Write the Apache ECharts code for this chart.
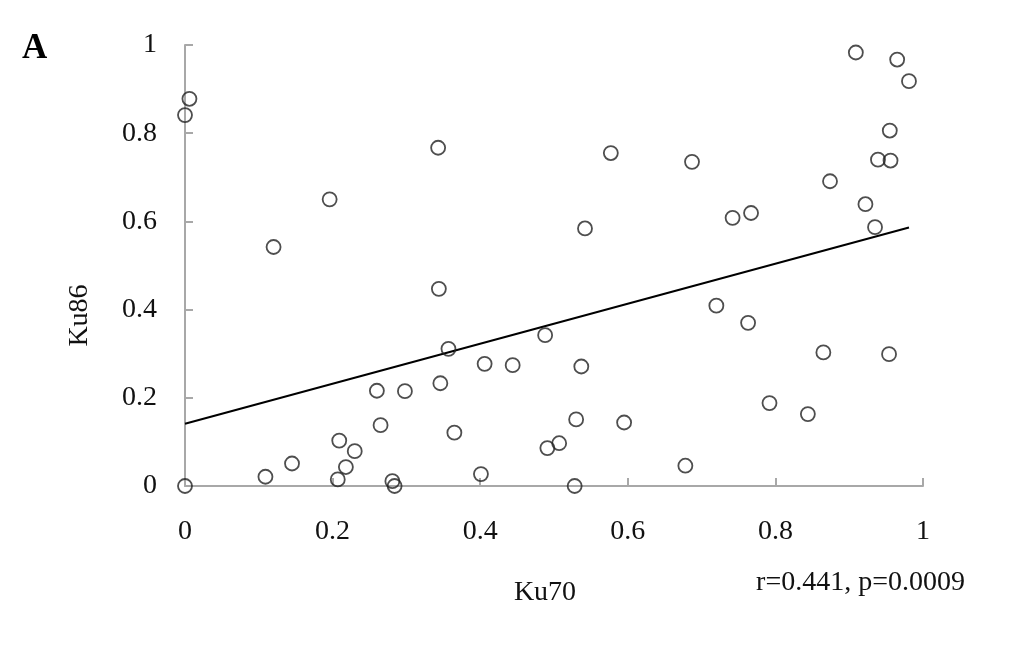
<!DOCTYPE html>
<html>
<head>
<meta charset="utf-8">
<script src="https://cdn.jsdelivr.net/npm/echarts@6/dist/echarts.min.js"></script>
<style>
	html, body { margin: 0; padding: 0; background: #fff; }
	#main { width: 1033px; height: 655px; }
</style>
</head>
<body>
<div id="main"></div>
<script>
// Ku70 (x) vs Ku86 (y)
var ku70 = [0, 0.006, 0.343, 0.196, 0.120, 0.344, 0.357, 0.260, 0.298, 0.346,
	0.265, 0.365, 0.209, 0.230, 0.145, 0.218, 0.109, 0.207, 0.281, 0.284,
	0, 0.488, 0.406, 0.444, 0.537, 0.530, 0.595, 0.491, 0.507, 0.401,
	0.528, 0.678, 0.577, 0.687, 0.542, 0.909, 0.965, 0.981, 0.955, 0.939,
	0.956, 0.874, 0.922, 0.935, 0.742, 0.767, 0.720, 0.763, 0.865, 0.954,
	0.792, 0.844];
var ku86 = [0.841, 0.878, 0.767, 0.650, 0.542, 0.447, 0.311, 0.216, 0.215, 0.233,
	0.138, 0.121, 0.103, 0.079, 0.051, 0.043, 0.021, 0.015, 0.011, 0.000,
	0.000, 0.342, 0.277, 0.274, 0.271, 0.151, 0.144, 0.086, 0.097, 0.027,
	0.000, 0.046, 0.755, 0.735, 0.584, 0.983, 0.967, 0.918, 0.806, 0.740,
	0.738, 0.691, 0.639, 0.587, 0.608, 0.619, 0.409, 0.370, 0.303, 0.299,
	0.188, 0.163];

// regression line end points
var fitX = [0, 0.981];
var fitY = [0.141, 0.586];

var ticks = [0, 0.2, 0.4, 0.6, 0.8, 1];

function initChart(){
	var points = [];
	$each(ku70, function(i, x){
		points.push([x, ku86[i]]);
	});
	var fit = [];
	$each(fitX, function(i, x){
		fit.push([x, fitY[i]]);
	});

	var font = '"Liberation Serif", "Times New Roman", serif';
	var axisColor = '#a8a8a8';
	var myChart = echarts.init(document.getElementById('main'));

	var option = {
		backgroundColor: '#fff',
		animation: false,
		grid: {
			left: 185,
			right: 110,
			top: 45,
			bottom: 169
		},
		xAxis: {
			type: 'value',
			min: ticks[0],
			max: ticks[ticks.length - 1],
			interval: 0.2,
			name: 'Ku70',
			nameLocation: 'middle',
			nameGap: 93,
			nameTextStyle: { fontFamily: font, fontSize: 28, color: '#111', padding: [0, 18, 0, 0] },
			axisLine: { lineStyle: { color: axisColor, width: 2 } },
			axisTick: { inside: true, length: 8, lineStyle: { color: axisColor, width: 2 } },
			axisLabel: { fontFamily: font, fontSize: 28, color: '#111', margin: 32 },
			splitLine: { show: false }
		},
		yAxis: {
			type: 'value',
			min: ticks[0],
			max: ticks[ticks.length - 1],
			interval: 0.2,
			name: 'Ku86',
			nameLocation: 'middle',
			nameGap: 91,
			nameTextStyle: { fontFamily: font, fontSize: 28, color: '#111', padding: [0, 100, 0, 0] },
			axisLine: { show: true, lineStyle: { color: axisColor, width: 2 } },
			axisTick: { show: true, inside: true, length: 8, lineStyle: { color: axisColor, width: 2 } },
			axisLabel: { fontFamily: font, fontSize: 28, color: '#111', margin: 28 },
			splitLine: { show: false }
		},
		graphic: [
			{
				type: 'text',
				left: 22,
				top: 31,
				style: { text: 'A', font: 'bold 35px ' + font, fill: '#000' }
			},
			{
				type: 'text',
				right: 68,
				top: 569,
				style: { text: 'r=0.441, p=0.0009', font: '28px ' + font, fill: '#111' }
			}
		],
		series: [
			{
				type: 'line',
				data: fit,
				symbol: 'none',
				lineStyle: { color: '#000', width: 2 },
				z: 1
			},
			{
				type: 'scatter',
				data: points,
				symbol: 'circle',
				symbolSize: 14,
				itemStyle: { color: 'rgba(255,255,255,0)', borderColor: '#222', borderWidth: 1.8 },
				z: 2
			}
		]
	};

	myChart.setOption(option);
}

function $each(arr, fn){
	for(var i = 0; i < arr.length; i++){
		fn(i, arr[i]);
	}
}

initChart();
</script>
</body>
</html>
